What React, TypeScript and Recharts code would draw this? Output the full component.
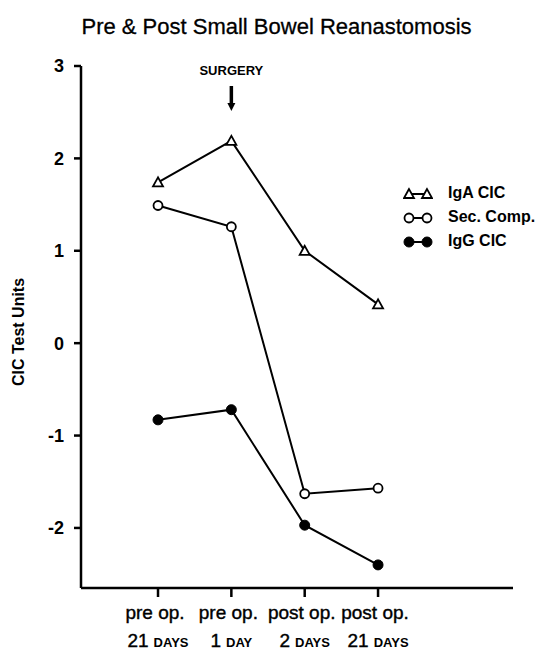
import { LineChart, Line, XAxis, YAxis, ReferenceDot } from "recharts"

const xPositions = [0, 1, 2, 3]
const topLabels = ["pre op.", "pre op.", "post op.", "post op."]
const dayNumbers = ["21", "1", "2", "21"]
const dayUnits = ["DAYS", "DAY", "DAYS", "DAYS"]

const igaCic = [1.74, 2.19, 1.0, 0.42]
const secComp = [1.49, 1.26, -1.63, -1.57]
const iggCic = [-0.83, -0.72, -1.97, -2.4]

const yTicks = [-2, -1, 0, 1, 2, 3]

const data = xPositions.map((x, i) => ({
  x,
  iga: igaCic[i],
  sec: secComp[i],
  igg: iggCic[i],
}))

const font = "'Liberation Sans', Arial, sans-serif"

const Triangle = ({ cx, cy }: any) => (
  <polygon
    points={`${cx},${cy - 5} ${cx - 5},${cy + 4} ${cx + 5},${cy + 4}`}
    fill="#fff"
    stroke="#000"
    strokeWidth={1.8}
  />
)

const OpenCircle = ({ cx, cy }: any) => (
  <circle cx={cx} cy={cy} r={4.5} fill="#fff" stroke="#000" strokeWidth={1.8} />
)

const FilledCircle = ({ cx, cy }: any) => <circle cx={cx} cy={cy} r={5} fill="#000" stroke="#000" />

const XTick = ({ x, y, payload }: any) => {
  const i = xPositions.indexOf(payload.value)
  return (
    <g>
      <text
        x={x - 3}
        y={y + 20}
        textAnchor="middle"
        fontSize={19}
        fontFamily={font}
        fill="#000"
        stroke="#000"
        strokeWidth={0.4}
      >
        {topLabels[i]}
      </text>
      <text x={x} y={y + 48} textAnchor="middle" fontFamily={font} fill="#000">
        <tspan fontSize={19} stroke="#000" strokeWidth={0.4}>
          {dayNumbers[i]}
        </tspan>
        <tspan fontSize={13} fontWeight="bold" dx={5}>
          {dayUnits[i]}
        </tspan>
      </text>
    </g>
  )
}

const legendRows = [
  { name: "IgA CIC", Mark: Triangle },
  { name: "Sec. Comp.", Mark: OpenCircle },
  { name: "IgG CIC", Mark: FilledCircle },
]

const LegendBox = () => (
  <div
    style={{
      position: "absolute",
      left: 403,
      top: 181,
      fontFamily: font,
      fontSize: 16,
      fontWeight: "bold",
    }}
  >
    {legendRows.map(({ name, Mark }) => (
      <div key={name} style={{ display: "flex", alignItems: "center", height: 24 }}>
        <svg width={30} height={14} style={{ marginRight: 15 }}>
          <line x1={6} y1={8} x2={24} y2={8} stroke="#000" strokeWidth={2} />
          <Mark cx={6} cy={8} />
          <Mark cx={24} cy={8} />
        </svg>
        <span>{name}</span>
      </div>
    ))}
  </div>
)

const Surgery = ({ cx, cy }: any) => (
  <g>
    <text x={cx} y={cy + 9} textAnchor="middle" fontSize={13} fontWeight="bold" fontFamily={font}>
      SURGERY
    </text>
    <line x1={cx} y1={cy + 20} x2={cx} y2={cy + 40} stroke="#000" strokeWidth={3.5} />
    <polygon points={`${cx - 4},${cy + 37} ${cx + 4},${cy + 37} ${cx},${cy + 45}`} fill="#000" />
  </g>
)

export default function App() {
  return (
    <div style={{ position: "absolute", left: 0, top: 0, width: 545, height: 653, background: "#fff" }}>
      <div
        style={{
          position: "absolute",
          top: 14,
          left: 4,
          width: 545,
          textAlign: "center",
          fontFamily: font,
          fontSize: 22,
          WebkitTextStroke: "0.3px #000",
        }}
      >
        Pre &amp; Post Small Bowel Reanastomosis
      </div>
      <LegendBox />
      <LineChart width={545} height={653} data={data} margin={{ top: 66, right: 32, bottom: 0, left: 0 }}>
        <XAxis
          dataKey="x"
          type="number"
          domain={[-1.05, 4.84]}
          ticks={xPositions}
          tick={<XTick />}
          tickSize={9}
          height={65}
          stroke="#000"
          strokeWidth={2.5}
        />
        <YAxis
          type="number"
          domain={[-2.65, 3]}
          ticks={yTicks}
          width={81}
          tickSize={7}
          tickMargin={10}
          stroke="#000"
          strokeWidth={2.5}
          tick={{ fill: "#000", fontSize: 18, fontWeight: "bold", fontFamily: font }}
          label={{
            content: () => (
              <text
                x={24}
                y={332}
                transform="rotate(-90, 24, 332)"
                textAnchor="middle"
                fontSize={16}
                fontWeight="bold"
                fontFamily={font}
                fill="#000"
              >
                CIC Test Units
              </text>
            ),
          }}
        />
        <ReferenceDot x={1} y={3} r={0} shape={<Surgery />} />
        <Line
          dataKey="iga"
          stroke="#000"
          strokeWidth={2}
          dot={<Triangle />}
          activeDot={false}
          isAnimationActive={false}
        />
        <Line
          dataKey="sec"
          stroke="#000"
          strokeWidth={2}
          dot={<OpenCircle />}
          activeDot={false}
          isAnimationActive={false}
        />
        <Line
          dataKey="igg"
          stroke="#000"
          strokeWidth={2}
          dot={<FilledCircle />}
          activeDot={false}
          isAnimationActive={false}
        />
      </LineChart>
    </div>
  )
}
